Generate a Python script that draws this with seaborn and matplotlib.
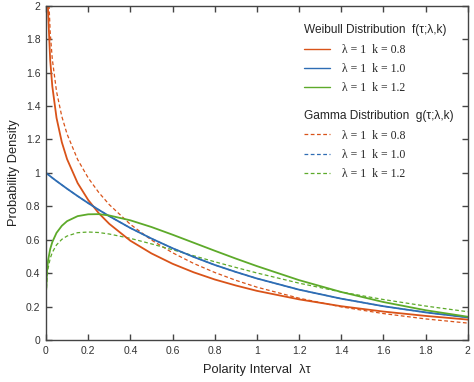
import pandas as pd
import matplotlib
matplotlib.use("Agg")
import matplotlib.pyplot as plt
from matplotlib.lines import Line2D
from matplotlib.ticker import FuncFormatter, MultipleLocator
import seaborn as sns

# values (lambda = 1)
x_vals = [0.001, 0.005, 0.01, 0.02, 0.03, 0.05, 0.075, 0.1, 0.15, 0.2, 0.25, 0.3,
          0.4, 0.5, 0.6, 0.7, 0.8, 0.9, 1.0, 1.2, 1.4, 1.6, 1.8, 2.0]

weibull_k08 = [3.17, 2.275, 1.960, 1.675, 1.518, 1.329, 1.184, 1.082, 0.939, 0.838, 0.759, 0.695,
               0.594, 0.518, 0.456, 0.405, 0.362, 0.326, 0.294, 0.243, 0.202, 0.170, 0.144, 0.122]
weibull_k10 = [0.999, 0.995, 0.990, 0.980, 0.970, 0.951, 0.928, 0.905, 0.861, 0.819, 0.779, 0.741,
               0.670, 0.607, 0.549, 0.497, 0.449, 0.407, 0.368, 0.301, 0.247, 0.202, 0.165, 0.135]
weibull_k12 = [0.301, 0.415, 0.476, 0.544, 0.586, 0.641, 0.683, 0.711, 0.741, 0.752, 0.753, 0.745,
               0.716, 0.676, 0.630, 0.582, 0.534, 0.487, 0.442, 0.358, 0.287, 0.227, 0.178, 0.139]

gamma_k08 = [3.416, 2.466, 2.136, 1.841, 1.680, 1.487, 1.338, 1.232, 1.080, 0.970, 0.883, 0.810,
             0.692, 0.598, 0.522, 0.458, 0.404, 0.357, 0.316, 0.250, 0.198, 0.158, 0.126, 0.101]
gamma_k10 = weibull_k10
gamma_k12 = [0.273, 0.376, 0.429, 0.488, 0.524, 0.569, 0.602, 0.622, 0.642, 0.646, 0.643, 0.634,
             0.608, 0.575, 0.540, 0.504, 0.468, 0.434, 0.401, 0.340, 0.287, 0.242, 0.203, 0.169]

shape_labels = ["0.8", "1.0", "1.2"]
colors = {"0.8": "#D95319", "1.0": "#2E6DB4", "1.2": "#5DAA2A"}

rows = []
for dist, series in [("Weibull", [weibull_k08, weibull_k10, weibull_k12]),
                     ("Gamma", [gamma_k08, gamma_k10, gamma_k12])]:
    for k, ys in zip(shape_labels, series):
        for xv, yv in zip(x_vals, ys):
            rows.append({"x": xv, "y": yv, "dist": dist, "k": k})
df = pd.DataFrame(rows)

sns.set_theme(style="ticks")
plt.rcParams["font.family"] = ["Liberation Sans", "DejaVu Sans"]
# MATLAB-like boxed axes with inward ticks on all sides
plt.rcParams.update({
    "xtick.direction": "in", "ytick.direction": "in",
    "xtick.top": True, "xtick.bottom": True, "ytick.left": True, "ytick.right": True,
    "xtick.major.size": 4, "ytick.major.size": 4,
    "xtick.major.width": 1.0, "ytick.major.width": 1.0,
    "xtick.color": "#444444", "ytick.color": "#444444",
    "xtick.labelcolor": "#333333", "ytick.labelcolor": "#333333",
    "xtick.labelsize": 7.5, "ytick.labelsize": 7.5,
    "xtick.major.pad": 4, "ytick.major.pad": 4,
    "axes.edgecolor": "#444444", "axes.linewidth": 1.0,
})

fig = plt.figure(figsize=(4.74, 3.82), dpi=100)
ax = fig.add_axes([0.097, 0.110, 0.890, 0.875])

sns.lineplot(data=df[df["dist"] == "Gamma"], x="x", y="y", hue="k", palette=colors,
             ax=ax, legend=False, linewidth=0.9, dashes=False, linestyle=(0, (3, 2)),
             estimator=None, sort=False)
sns.lineplot(data=df[df["dist"] == "Weibull"], x="x", y="y", hue="k", palette=colors,
             ax=ax, legend=False, linewidth=1.3, estimator=None, sort=False)

ax.set_xlim(0, 2)
ax.set_ylim(0, 2)
ax.xaxis.set_major_locator(MultipleLocator(0.2))
ax.yaxis.set_major_locator(MultipleLocator(0.2))
fmt = FuncFormatter(lambda v, p: f"{v:g}")
ax.xaxis.set_major_formatter(fmt)
ax.yaxis.set_major_formatter(fmt)
ax.tick_params(axis="both", which="major", direction="in", length=4, width=1.0,
               top=True, right=True, bottom=True, left=True)
for sp in ax.spines.values():
    sp.set_visible(True)
    sp.set_zorder(5)

ax.set_xlabel("Polarity Interval  λτ", fontsize=9.3, color="#222222", labelpad=6)
ax.set_ylabel("Probability Density", fontsize=9.3, color="#222222", labelpad=4)

entry_font = {"family": ["Liberation Serif", "DejaVu Serif"], "size": 8.5}
labels = [f"λ = 1  k = {k}" for k in shape_labels]
legend_kw = dict(loc="upper left", frameon=False, prop=entry_font, title_fontsize=8.6,
                 handlelength=2.2, handletextpad=1.0, labelspacing=0.62,
                 alignment="left", borderpad=0)

h1 = [Line2D([], [], color=colors[k], lw=1.0) for k in shape_labels]
leg1 = ax.legend(h1, labels, title="Weibull Distribution  f(τ;λ,k)",
                 bbox_to_anchor=(0.597, 0.962), **legend_kw)
ax.add_artist(leg1)

h2 = [Line2D([], [], color=colors[k], lw=0.9, linestyle=(0, (3, 2))) for k in shape_labels]
leg2 = ax.legend(h2, labels, title="Gamma Distribution  g(τ;λ,k)",
                 bbox_to_anchor=(0.597, 0.705), **legend_kw)

fig.savefig("out.png", dpi=100)
